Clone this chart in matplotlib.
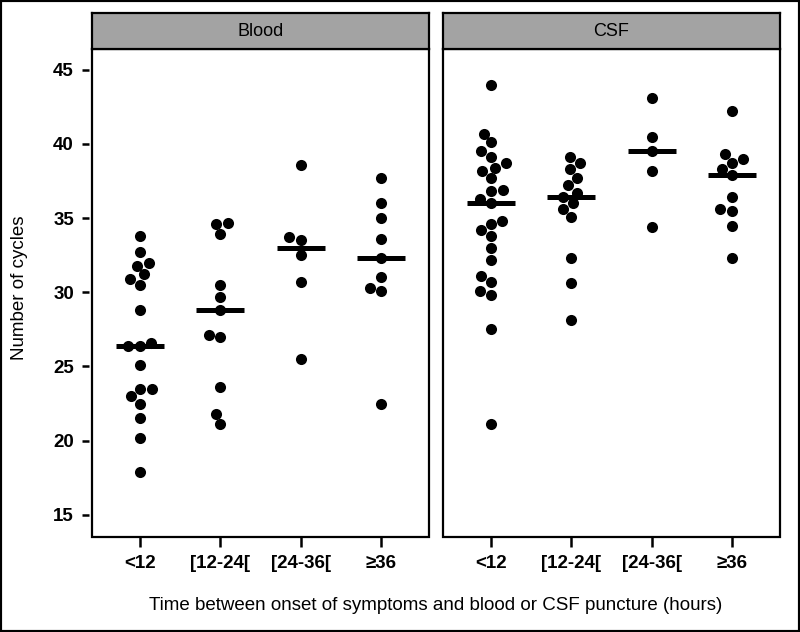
import matplotlib
matplotlib.use("Agg")
import matplotlib.pyplot as plt
import numpy as np
import pandas as pd
import seaborn as sns
from matplotlib.patches import Rectangle

plt.rcParams["font.family"] = ["Liberation Sans", "DejaVu Sans"]

groups = ["<12", "[12-24[", "[24-36[", "≥36"]
panels = ["Blood", "CSF"]

# Ct values, one list per panel and time group
blood_lt12 = [33.8, 32.7, 32.0, 31.8, 31.2, 30.9, 30.5, 28.8, 26.6, 26.4, 26.4,
              25.1, 23.5, 23.5, 23.0, 22.5, 21.5, 20.2, 17.9]
blood_12_24 = [34.7, 34.6, 33.9, 30.5, 29.7, 28.8, 27.1, 27.0, 23.6, 21.8, 21.1]
blood_24_36 = [38.6, 33.7, 33.5, 32.5, 30.7, 25.5]
blood_ge36 = [37.7, 36.0, 35.0, 33.6, 32.3, 31.0, 30.3, 30.1, 22.5]

csf_lt12 = [44.0, 40.7, 40.1, 39.5, 39.1, 38.7, 38.4, 38.2, 37.7, 36.9, 36.8,
            36.3, 36.0, 34.8, 34.6, 34.2, 33.8, 33.0, 32.2, 31.1, 30.7, 30.1,
            29.8, 27.5, 21.1]
csf_12_24 = [39.1, 38.7, 38.3, 37.7, 37.2, 36.7, 36.4, 36.0, 35.6, 35.1, 32.3,
             30.6, 28.1]
csf_24_36 = [43.1, 40.5, 39.5, 38.2, 34.4]
csf_ge36 = [42.2, 39.3, 39.0, 38.7, 38.3, 37.9, 36.4, 35.6, 35.5, 34.5, 32.3]

data = {
    "Blood": [blood_lt12, blood_12_24, blood_24_36, blood_ge36],
    "CSF": [csf_lt12, csf_12_24, csf_24_36, csf_ge36],
}

W, H = 800, 632
fig = plt.figure(figsize=(W / 100, H / 100), dpi=100)


def fx(px):
    return px / W


def fy(px):
    return 1 - px / H


panel_left = [92, 443]
panel_w = 337
top, bottom, strip_top = 49, 537, 13

for i, name in enumerate(panels):
    ax = fig.add_axes([fx(panel_left[i]), fy(bottom), fx(panel_w), (bottom - top) / H])
    rows = [(g, v) for g, vals in zip(groups, data[name]) for v in vals]
    df = pd.DataFrame(rows, columns=["group", "ct"])
    sns.swarmplot(data=df, x="group", y="ct", order=groups, ax=ax,
                  color="black", size=8, linewidth=0, zorder=2)
    for k, vals in enumerate(data[name]):
        ax.hlines(np.median(vals), k - 0.3, k + 0.3, color="black", lw=3.6, zorder=3)

    ax.set_xlim(-0.6, 3.6)
    ax.set_ylim(13.5, 46.4)
    ax.set_xlabel("")
    ax.set_ylabel("")
    for s in ax.spines.values():
        s.set_visible(False)
    ax.spines["left"].set_position(("outward", 2))
    ax.add_patch(Rectangle((0, 0), 1, 1, transform=ax.transAxes, fill=False,
                           lw=1.6, edgecolor="black", clip_on=False, zorder=5))
    ax.tick_params(axis="x", length=7, width=1.8, pad=6, labelsize=13.5)
    if i == 0:
        ax.set_yticks([15, 20, 25, 30, 35, 40, 45])
        ax.tick_params(axis="y", length=5, width=1.8, pad=6, labelsize=13.5)
    else:
        ax.set_yticks([])
    for lab in ax.get_xticklabels() + ax.get_yticklabels():
        lab.set_fontweight("bold")

    sax = fig.add_axes([fx(panel_left[i]), fy(top), fx(panel_w), (top - strip_top) / H])
    sax.set_facecolor("#a3a3a3")
    sax.set_xticks([])
    sax.set_yticks([])
    for s in sax.spines.values():
        s.set_linewidth(1.6)
    sax.text(0.5, 0.5, name, ha="center", va="center", fontsize=13,
             transform=sax.transAxes)

fig.text(fx(20), fy(288), "Number of cycles", rotation=90, ha="center",
         va="center", fontsize=13.5)
fig.text(fx(436), fy(605), "Time between onset of symptoms and blood or CSF puncture (hours)",
         ha="center", va="center", fontsize=13.5)
fig.patches.append(Rectangle((0, 0), 1, 1, transform=fig.transFigure, fill=False,
                             lw=3, edgecolor="black"))

fig.savefig("out.png", dpi=100)
